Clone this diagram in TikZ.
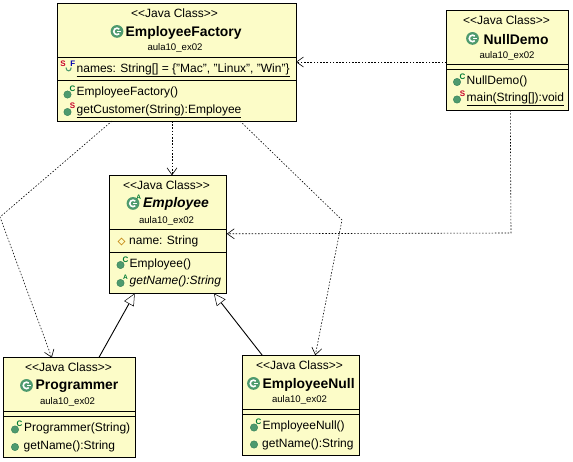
\documentclass[tikz,border=0pt]{standalone}
\usepackage{fontspec}
\setmainfont{Liberation Sans}
\usetikzlibrary{calc,arrows.meta,shapes.geometric}
\definecolor{boxfill}{HTML}{FCFCC8}
\definecolor{icong}{HTML}{4E9A6E}
\definecolor{icond}{HTML}{2E7D55}
\definecolor{letg}{HTML}{007A33}
\definecolor{letr}{HTML}{C8002A}
\definecolor{diam}{HTML}{C89020}
\tikzset{
  x=1pt,y=-1pt,
  umlbox/.style={draw=black,fill=boxfill,line width=0.9pt,minimum width=#1,inner sep=0,outer sep=0},
  stereo/.style={font=\fontsize{12}{12}\selectfont,inner sep=0},
  title/.style={font=\fontsize{13.9}{14}\selectfont\bfseries,inner sep=0,anchor=west},
  pkg/.style={font=\fontsize{9.6}{10}\selectfont,inner sep=0},
  member/.style={font=\fontsize{12}{12}\selectfont,inner sep=0,anchor=base west},
  sep/.style={line width=0.9pt},
  dep/.style={dash pattern=on 1.5pt off 1.7pt,line width=0.6pt,-{Straight Barb[length=7pt,width=10pt,line width=0.6pt]}},
  inh/.style={line width=0.9pt,-{Triangle[open,fill=white,length=12pt,width=11pt,line width=0.5pt]}},
  upper/.style={font=\fontsize{8}{8}\selectfont\bfseries,inner sep=0,text=letg},
  upperr/.style={font=\fontsize{8}{8}\selectfont\bfseries,inner sep=0,text=letr},
}
\newcommand{\classicon}[2]{%
  \fill[icong] (#1,#2+0.4) circle (6.4);
  \draw[white,line width=1.6pt] (#1+2.3,#2+0.4-2.3) arc (-45:-315:3.25);
  \fill[white] (#1,#2-0.5) rectangle (#1+4,#2+1.2);
}
\newcommand{\methicon}[2]{%
  \fill[icong,draw=icond,line width=0.4pt] (#1,#2) circle (3.7);
}
\begin{document}
\begin{tikzpicture}
\useasboundingbox (0,0) rectangle (573,461);
% boxes
\node[umlbox=239,minimum height=118,anchor=north west] (fac) at (57,3) {};
\node[umlbox=122.5,minimum height=100,anchor=north west] (nd) at (446.3,10) {};
\node[umlbox=117.5,minimum height=118,anchor=north west] (emp) at (109.3,175.3) {};
\node[umlbox=132,minimum height=99.6,anchor=north west] (prog) at (3.3,357.7) {};
\node[umlbox=117.5,minimum height=100,anchor=north west] (enull) at (242.3,355.3) {};
% separators
\draw[sep] (57,57.3) -- (296,57.3) (57,80) -- (296,80);
\draw[sep] (446.3,64.3) -- (568.8,64.3) (446.3,69.3) -- (568.8,69.3);
\draw[sep] (109.3,229.3) -- (226.8,229.3) (109.3,252.3) -- (226.8,252.3);
\draw[sep] (3.3,411.3) -- (135.3,411.3) (3.3,416.3) -- (135.3,416.3);
\draw[sep] (242.3,409.3) -- (359.8,409.3) (242.3,414.3) -- (359.8,414.3);
% EmployeeFactory
\node[stereo] (t1) at (174.5,13) {<{}<Java Class>{}>};
\classicon{117}{31}
\node[title] (t2) at (125.5,32.5) {EmployeeFactory};
\node[pkg] (t3) at (175,47.5) {aula10\_ex02};
\node[upperr] (s1) at (63,63.5) {S};
\draw[icong,line width=1.1pt] (71.2,67.5) .. controls (71.2,72) and (66,72) .. (66,67.5);
\node[font=\fontsize{8}{8}\selectfont\bfseries,inner sep=0,text=blue!70!black] (s2) at (72.8,63.5) {F};
\node[member] (m1) at (76.5,72) {\underline{names: String[] = \{"Mac", "Linux", "Win"\}}};
\methicon{67.5}{94.5}
\node[upper] (s3) at (72.5,88.5) {C};
\node[member] (m2) at (76.5,95.5) {EmployeeFactory()};
\methicon{67.5}{112}
\node[upperr] (s4) at (72.5,106) {S};
\node[member] (m3) at (76.5,113) {\underline{getCustomer(String):Employee}};
% NullDemo
\node[stereo] (t4) at (506.5,20) {<{}<Java Class>{}>};
\classicon{472.5}{38}
\node[title] (t5) at (483.5,39.5) {NullDemo};
\node[pkg] (t6) at (507,55.5) {aula10\_ex02};
\methicon{457}{82}
\node[upper] (s5) at (462.5,76.5) {C};
\node[member] (m4) at (466.5,84) {NullDemo()};
\methicon{457}{99.5}
\node[upperr] (s6) at (462.5,93.5) {S};
\node[member] (m5) at (466.5,101.5) {\underline{main(String[]):void}};
% Employee
\node[stereo] (t7) at (166.5,185.5) {<{}<Java Class>{}>};
\classicon{133}{203}
\node[upper,font=\fontsize{6.5}{7}\selectfont\bfseries] (s7) at (138.8,197.5) {A};
\node[title,font=\fontsize{13.9}{14}\selectfont\bfseries\itshape] (t8) at (143,204) {Employee};
\node[pkg] (t9) at (166.5,220.5) {aula10\_ex02};
\node[diamond,draw=diam,inner sep=0,minimum size=7pt,line width=0.6pt,shape aspect=1] (d1) at (121.5,241.5) {};
\node[member] (m6) at (129,244) {name: String};
\methicon{120.5}{265}
\node[upper] (s8) at (125.5,259.5) {C};
\node[member] (m7) at (129.5,267) {Employee()};
\methicon{120.5}{283}
\node[upper,font=\fontsize{6.5}{7}\selectfont\bfseries] (s9) at (125.5,277) {A};
\node[member] (m8) at (129.5,284.5) {\textit{getName():String}};
% Programmer
\node[stereo] (t10) at (68.5,367) {<{}<Java Class>{}>};
\classicon{26.5}{385}
\node[title] (t11) at (35.5,386.5) {Programmer};
\node[pkg] (t12) at (67.5,401.5) {aula10\_ex02};
\methicon{15}{429.5}
\node[upper] (s10) at (19.5,423.5) {C};
\node[member] (m9) at (24,431) {Programmer(String)};
\methicon{15}{447}
\node[member] (m10) at (23.5,449) {getName():String};
% EmployeeNull
\node[stereo] (t13) at (299.5,365) {<{}<Java Class>{}>};
\classicon{253.5}{383}
\node[title] (t14) at (262.5,384.5) {EmployeeNull};
\node[pkg] (t15) at (299.5,399.5) {aula10\_ex02};
\methicon{254}{427.5}
\node[upper] (s11) at (258.5,421.5) {C};
\node[member] (m11) at (262.5,429) {EmployeeNull()};
\methicon{254}{444.5}
\node[member] (m12) at (262,447) {getName():String};
% connectors
\coordinate (a1) at ($(nd.north west)+(0,52)$);
\coordinate (a2) at ($(fac.north east)+(0,59)$);
\draw[dep] (a1) -- (a2);
\coordinate (b1) at ($(nd.south west)+(64,0)$);
\coordinate (b2) at (511,233);
\coordinate (b3) at ($(emp.north east)+(0,58.5)$);
\draw[dep] (b1) -- (b2) -- (b3);
\draw[dep] ($(fac.south west)+(115,0)$) -- ($(emp.north west)+(62.7,0)$);
\coordinate (c1) at (0,217);
\draw[dep] ($(fac.south west)+(55,0)$) -- (c1) -- ($(prog.north west)+(48.5,0)$);
\coordinate (e1) at (342,220);
\draw[dep] ($(fac.south west)+(183,0)$) -- (e1) -- ($(enull.north west)+(73,0)$);
\draw[inh] ($(prog.north west)+(95.5,0)$) -- ($(emp.south west)+(25.5,0)$);
\draw[inh] ($(enull.north west)+(20,0)$) -- ($(emp.south east)+(-13,0)$);
\end{tikzpicture}
\end{document}
